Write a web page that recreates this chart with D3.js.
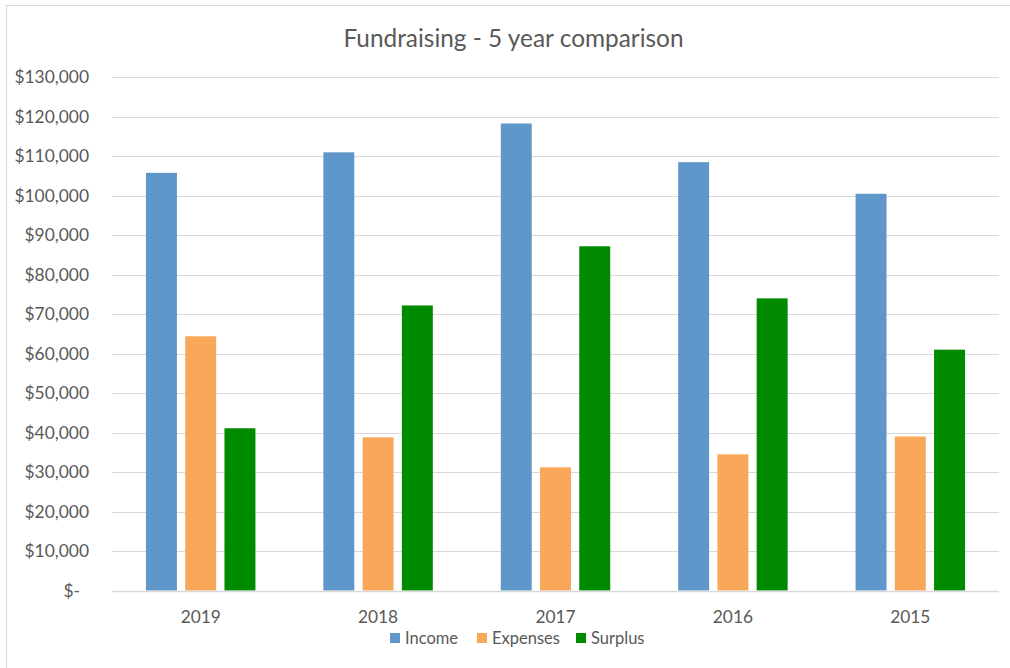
<!DOCTYPE html>
<html><head><meta charset="utf-8">
<script src="https://cdn.jsdelivr.net/npm/d3@7"></script>
<style>body{margin:0;background:#fff;} svg{display:block;font-family:Lato,"Open Sans",sans-serif;}</style>
</head><body>
<svg id="c" width="1010" height="668"></svg>
<script>
const years = ["2019","2018","2017","2016","2015"];
const series = ["Income","Expenses","Surplus"];
const income = [105800, 111000, 118300, 108500, 100500];
const expenses = [64400, 38800, 31200, 34500, 39000];
const surplus = [41100, 72200, 87200, 74000, 61000];
const yTicks = [0,10000,20000,30000,40000,50000,60000,70000,80000,90000,100000,110000,120000,130000];
const colors = ["#6097cb","#f9a85a","#008a00"];

(function(){
const values = [income, expenses, surplus];
const svg = d3.select("#c");
const pLeft = 112, pRight = 999, pTop = 77.3, pBottom = 590.5;

// chart border
svg.append("rect").attr("x",6.5).attr("y",5.5).attr("width",1010).attr("height",670)
  .attr("fill","#fff").attr("stroke","#d9d9d9").attr("stroke-width",1);

const y = d3.scaleLinear().domain([0,130000]).range([pBottom, pTop]);
const x0 = d3.scaleBand().domain(years).range([pLeft, pRight]).paddingInner(0.383).paddingOuter(0.1915);
const x1 = d3.scaleBand().domain(series).range([0, x0.bandwidth()]).paddingInner(0.211);

// gridlines
svg.append("g").selectAll("line").data(yTicks.filter(d=>d>0)).join("line")
  .attr("x1",pLeft).attr("x2",pRight).attr("y1",d=>Math.round(y(d))+0.5).attr("y2",d=>Math.round(y(d))+0.5)
  .attr("stroke","#d9d9d9").attr("stroke-width",1);

// y labels
const fmt = d => d===0 ? "$-" : "$" + d3.format(",")(d);
svg.append("g").selectAll("text").data(yTicks).join("text")
  .attr("x", d => d===0 ? 80 : 89).attr("y", d=>y(d)).attr("dy","0.35em")
  .attr("text-anchor","end").attr("fill","#595959").attr("font-size",17.4)
  .text(fmt);

// bars
const g = svg.append("g");
years.forEach((yr,i)=>{
  g.selectAll(null).data(series.map((s,j)=>({s, v: values[j][i], c: colors[j]}))).join("rect")
    .attr("x", d=>x0(yr)+x1(d.s)).attr("width", x1.bandwidth())
    .attr("y", d=>y(d.v)).attr("height", d=>y(0)-y(d.v))
    .attr("fill", d=>d.c);
});

// x axis line
svg.append("line").attr("x1",pLeft).attr("x2",pRight).attr("y1",Math.round(pBottom)+0.5).attr("y2",Math.round(pBottom)+0.5)
  .attr("stroke","#d9d9d9").attr("stroke-width",1.5);

// x labels
svg.append("g").selectAll("text").data(years).join("text")
  .attr("x", d=>x0(d)+x0.bandwidth()/2).attr("y",623)
  .attr("text-anchor","middle").attr("fill","#595959").attr("font-size",17.3).text(d=>d);

// title
svg.append("text").attr("x",513.5).attr("y",47).attr("text-anchor","middle")
  .attr("fill","#595959").attr("font-size",24.4).text("Fundraising - 5 year comparison");

// legend
const legX = [390, 477, 576];
const lg = svg.append("g");
series.forEach((s,j)=>{
  lg.append("rect").attr("x",legX[j]).attr("y",633).attr("width",10).attr("height",10).attr("fill",colors[j]);
  lg.append("text").attr("x",legX[j]+15).attr("y",644).attr("fill","#595959").attr("font-size",16.5).text(s);
});
})();
</script>
</body></html>
